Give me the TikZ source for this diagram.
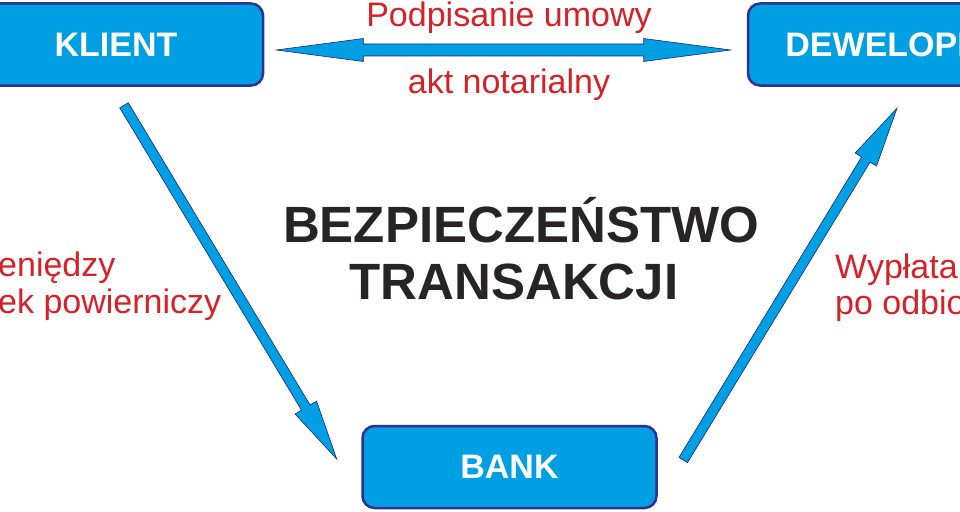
\documentclass[tikz,border=0pt]{standalone}
\usepackage{fontspec}
\setmainfont{Liberation Sans}
\usepackage{xcolor}
\usepackage{tikz}
\usetikzlibrary{positioning,calc}

\definecolor{boxblue}{RGB}{0,159,227}
\definecolor{boxline}{RGB}{46,49,146}
\definecolor{arrline}{RGB}{30,40,110}
\definecolor{labelred}{RGB}{213,33,40}
\definecolor{titlegray}{RGB}{38,36,36}

\tikzset{
  party/.style={draw=boxline, line width=2.5pt, fill=boxblue, rounded corners=12pt,
    minimum width=294pt, minimum height=82pt, inner sep=0pt,
    text=white, font=\fontsize{34}{40}\selectfont\bfseries},
  fatarrow/.style={draw=arrline, line width=0.6pt, fill=boxblue, line join=miter},
  redlabel/.style={text=labelred, inner sep=0pt, font=\fontsize{34}{40}\selectfont},
  headline/.style={text=titlegray, inner sep=0pt, font=\fontsize{51}{57}\selectfont\bfseries},
}

% fat arrow from #1 to #2
\newcommand{\fatarrow}[2]{%
  \coordinate (#2h) at ($(#2)!60pt!(#1)$);
  \draw[fatarrow] ($(#1)!5pt!90:(#2)$) -- ($(#2h)!5pt!-90:(#1)$) -- ($(#2h)!12.5pt!-90:(#1)$)
    -- (#2) -- ($(#2h)!12.5pt!90:(#1)$) -- ($(#2h)!5pt!90:(#1)$) -- ($(#1)!5pt!-90:(#2)$) -- cycle;}
% fat arrow with two heads
\newcommand{\fatdarrow}[2]{%
  \coordinate (#1h) at ($(#1)!87pt!(#2)$);
  \coordinate (#2h) at ($(#2)!87pt!(#1)$);
  \draw[fatarrow] (#1) -- ($(#1h)!11.5pt!90:(#2)$) -- ($(#1h)!6pt!90:(#2)$) -- ($(#2h)!6pt!-90:(#1)$)
    -- ($(#2h)!11.5pt!-90:(#1)$) -- (#2) -- ($(#2h)!11.5pt!90:(#1)$) -- ($(#2h)!6pt!90:(#1)$)
    -- ($(#1h)!6pt!-90:(#2)$) -- ($(#1h)!11.5pt!-90:(#2)$) -- cycle;}

\begin{document}
\begin{tikzpicture}[x=1pt, y=-1pt]
        \useasboundingbox (0,0) rectangle (960,511);
        \clip (0,0) rectangle (960,511);

        % Parties
        \node[party] (klient) at (116,44.5) {KLIENT};
        \node[party] (deweloper) at (895,44.5) {DEWELOPER};
        \node[party] (bank) at (509.5,467) {BANK};

        % Arrow ends
        \coordinate (kd1) at ($(klient.east)+(12,5.5)$);
        \coordinate (kd2) at ($(deweloper.west)+(-16,5.5)$);
        \coordinate (kb1) at ($(klient.south)+(8,18.5)$);
        \coordinate (kb2) at ($(bank.west)+(-24.5,-8)$);
        \coordinate (bd1) at ($(bank.east)+(25.5,-7)$);
        \coordinate (bd2) at ($(deweloper.south)+(2,21.5)$);

        % Arrows
        \fatdarrow{kd1}{kd2}
        \fatarrow{kb1}{kb2}
        \fatarrow{bd1}{bd2}

        % Contract
        \node[redlabel, anchor=base] (umowa) at (509,27) {Podpisanie umowy};
        \node[redlabel, anchor=base] (akt) at (509,93) {akt notarialny};

        % Payment in
        \node[redlabel, anchor=base west] (wplata) at (-2,276) {eniędzy};
        \node[redlabel, anchor=base west] (rachunek) at (-2,313) {ek powierniczy};

        % Payment out
        \node[redlabel, anchor=base west] (wyplata) at (835,278) {Wypłata};
        \node[redlabel, anchor=base west] (odbior) at (835,314) {po odbio};

        % Title
        \node[headline, anchor=base] (bezp) at (521,242) {BEZPIECZEŃSTWO};
        \node[headline, anchor=base] (trans) at (514,299) {TRANSAKCJI};
    \end{tikzpicture}
\end{document}
